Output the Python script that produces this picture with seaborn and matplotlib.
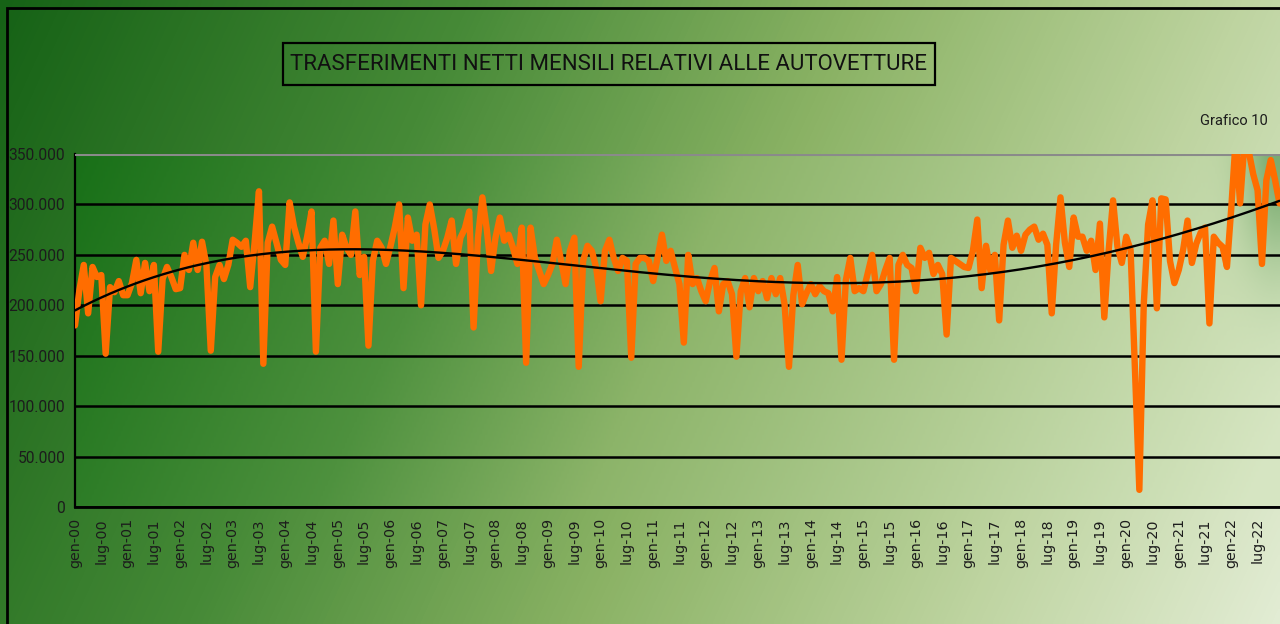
import numpy as np
import pandas as pd
import matplotlib
matplotlib.use("Agg")
import matplotlib.pyplot as plt
import seaborn as sns
from matplotlib.colors import LinearSegmentedColormap
from matplotlib.patches import Rectangle
from matplotlib.ticker import FuncFormatter
from matplotlib import font_manager

# ---------------- data (thousands of transfers, monthly) ----------------
years = list(range(2000, 2023))
v2000 = [180, 215, 240, 192, 238, 228, 230, 152, 218, 213, 224, 210]
v2001 = [210, 222, 245, 212, 242, 214, 240, 154, 226, 238, 228, 216]
v2002 = [217, 250, 235, 262, 235, 263, 240, 155, 228, 240, 226, 240]
v2003 = [265, 262, 258, 264, 218, 262, 313, 142, 262, 278, 262, 245]
v2004 = [240, 302, 278, 262, 248, 268, 293, 154, 257, 264, 241, 284]
v2005 = [221, 270, 257, 250, 293, 230, 248, 160, 244, 264, 257, 241]
v2006 = [258, 277, 300, 217, 287, 264, 270, 200, 280, 300, 276, 247]
v2007 = [254, 267, 284, 241, 267, 276, 293, 178, 267, 307, 276, 234]
v2008 = [267, 287, 264, 270, 257, 241, 277, 143, 277, 247, 234, 221]
v2009 = [230, 241, 265, 244, 221, 254, 267, 139, 244, 259, 254, 237]
v2010 = [204, 254, 265, 247, 234, 247, 244, 148, 241, 247, 247, 244]
v2011 = [224, 247, 270, 244, 254, 237, 221, 163, 250, 221, 227, 214]
v2012 = [204, 224, 237, 194, 221, 224, 211, 149, 214, 227, 198, 227]
v2013 = [214, 224, 207, 227, 211, 227, 201, 139, 210, 240, 201, 212]
v2014 = [221, 211, 219, 214, 212, 194, 228, 146, 225, 247, 214, 217]
v2015 = [214, 232, 250, 214, 221, 235, 247, 146, 240, 250, 240, 237]
v2016 = [214, 257, 247, 252, 231, 240, 231, 171, 247, 244, 241, 238]
v2017 = [237, 254, 285, 217, 259, 234, 250, 185, 260, 284, 257, 269]
v2018 = [254, 270, 275, 278, 265, 271, 260, 192, 260, 307, 262, 238]
v2019 = [287, 268, 268, 254, 264, 235, 281, 188, 255, 304, 258, 242]
v2020 = [268, 255, 135, 17, 200, 280, 304, 197, 306, 305, 244, 222]
v2021 = [235, 255, 284, 242, 261, 272, 277, 182, 268, 262, 258, 238]
v2022 = [297, 365, 301, 362, 352, 330, 314, 241, 324, 344, 324, 301]

yearly = [v2000, v2001, v2002, v2003, v2004, v2005, v2006, v2007, v2008, v2009,
          v2010, v2011, v2012, v2013, v2014, v2015, v2016, v2017, v2018, v2019,
          v2020, v2021, v2022]
values = np.array([v for yr in yearly for v in yr], dtype=float) * 1000
month_idx = np.arange(len(values))
month_names = ["gen", "lug"]
tick_labels = [f"{m}-{y % 100:02d}" for y in years for m in month_names]
tick_pos = np.arange(len(tick_labels)) * 6

# polynomial trend line (like a spreadsheet trendline)
coef = np.polyfit(month_idx, values, 4)
trend = np.polyval(coef, month_idx)

df = pd.DataFrame({"mese": month_idx, "valore": values, "trend": trend})

# ---------------- fonts ----------------
sns.set_style("white")
available = {f.name for f in font_manager.fontManager.ttflist}
narrow = "Liberation Sans Narrow" if "Liberation Sans Narrow" in available else "Roboto"
plt.rcParams["font.family"] = ["DejaVu Sans"]

W, H = 1280, 624
fig = plt.figure(figsize=(W / 100, H / 100), dpi=100)

# ---------------- figure background gradient ----------------
fig_cmap = LinearSegmentedColormap.from_list(
    "figbg",
    [(0.0, (22/255, 98/255, 22/255)), (0.3, (70/255, 138/255, 55/255)),
     (0.55, (138/255, 178/255, 100/255)), (0.8, (190/255, 212/255, 160/255)),
     (1.0, (226/255, 236/255, 212/255))])
xx, yy = np.meshgrid(np.linspace(0, 1, 400), np.linspace(0, 1, 200))
tfig = np.clip(0.82 * xx + 0.18 * yy, 0, 1)
bg = fig.add_axes([0, 0, 1, 1], zorder=-10)
bg.imshow(tfig, cmap=fig_cmap, aspect="auto", extent=[0, 1, 0, 1], origin="upper",
          vmin=0, vmax=1, interpolation="bilinear")
bg.set_axis_off()

# frame at left and top
fig.add_artist(Rectangle((7 / W, -0.05), 1.2, 1 - 8 / H + 0.05, transform=fig.transFigure,
                         fill=False, ec="black", lw=2))

# ---------------- main axes ----------------
left_px, right_px, top_px, bot_px = 75, 1279.5, 154, 507
ax = fig.add_axes([left_px / W, 1 - bot_px / H, (right_px - left_px) / W, (bot_px - top_px) / H])
ax.patch.set_alpha(0)

plot_cmap = LinearSegmentedColormap.from_list(
    "plotbg",
    [(0.0, (24/255, 112/255, 24/255)), (0.3, (78/255, 145/255, 62/255)),
     (0.5, (140/255, 180/255, 105/255)), (0.75, (178/255, 205/255, 148/255)),
     (1.0, (215/255, 230/255, 195/255))])
px, py = np.meshgrid(np.linspace(0, 1, 500), np.linspace(0, 1, 200))
tplot = np.clip(0.9 * px + 0.12 * py, 0, 1)
rgb = plot_cmap(tplot)[..., :3]
# slightly darker corner at top-right
blob = np.exp(-(((1 - px) / 0.03) ** 2 + (py / 0.3) ** 2))
dark = np.array([70/255, 140/255, 70/255])
rgb = rgb * (1 - 0.6 * blob[..., None]) + dark * 0.6 * blob[..., None]
ax.imshow(rgb, aspect="auto", extent=[0, len(values) - 1, 0, 350000], origin="upper",
          zorder=0, interpolation="bilinear")

sns.lineplot(data=df, x="mese", y="valore", ax=ax, color="#FF6D00", lw=4.6, zorder=3)
sns.lineplot(data=df, x="mese", y="trend", ax=ax, color="black", lw=1.7, zorder=4)
for ln in ax.lines:
    ln.set_solid_joinstyle("round")
    ln.set_solid_capstyle("round")

ax.set_xlim(0, len(values) - 1)
ax.set_ylim(0, 350000)
ax.set_yticks(np.arange(0, 350001, 50000))
ax.yaxis.set_major_formatter(FuncFormatter(lambda v, p: f"{int(v):,}".replace(",", ".")))
ax.set_xticks(tick_pos)
ax.set_xticklabels(tick_labels, rotation=90, fontsize=10.3, color="#1c1c1c", family="DejaVu Sans")
for lab in ax.get_yticklabels():
    lab.set_family(narrow)
    lab.set_fontsize(11.2)
    lab.set_color("#1c1c1c")
ax.set_xlabel("")
ax.set_ylabel("")

ax.grid(axis="y", color="black", lw=1.8, zorder=1)
ax.grid(axis="x", visible=False)
ax.set_axisbelow(False)
ygl = ax.get_ygridlines()
for gl in ygl:
    gl.set_zorder(1)
ygl[-1].set_color("#8a8a8a")
ygl[-1].set_linewidth(2.2)

for s in ["top", "right"]:
    ax.spines[s].set_visible(False)
ax.spines["left"].set_color("black")
ax.spines["left"].set_linewidth(1.6)
ax.spines["bottom"].set_color("black")
ax.spines["bottom"].set_linewidth(2.0)
ax.tick_params(axis="y", direction="out", length=4, width=1.3, color="black", pad=3)
ax.tick_params(axis="x", direction="out", length=5, width=1.3, color="black", pad=3)

# ---------------- title box and label ----------------
fig.add_artist(Rectangle((283 / W, 1 - 85 / H), 652 / W, 42 / H, transform=fig.transFigure,
                         fill=False, ec="black", lw=1.6))
title = fig.text(609 / W, 1 - 65 / H, "TRASFERIMENTI NETTI MENSILI RELATIVI ALLE AUTOVETTURE",
                 ha="center", va="center", fontsize=18, family=narrow, color="#111111")
fig.canvas.draw()
wpx = title.get_window_extent().width
title.set_fontsize(18 * 636 / wpx)

fig.text(1268 / W, 1 - 121 / H, "Grafico 10", ha="right", va="center",
         fontsize=10.5, family=narrow, color="#1c1c1c")

fig.savefig("out.png", dpi=100)
